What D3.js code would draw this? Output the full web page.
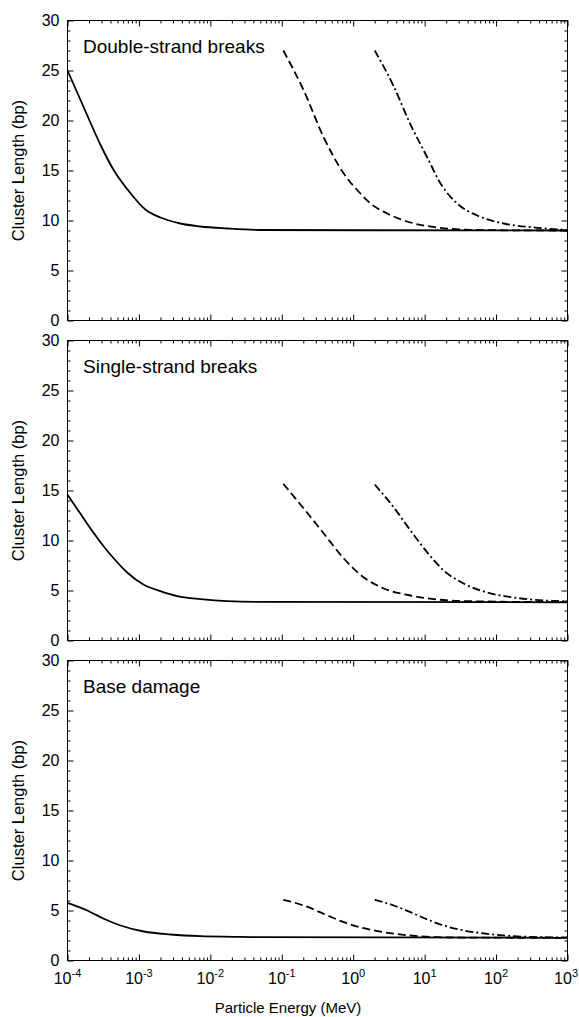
<!DOCTYPE html>
<html><head><meta charset="utf-8">
<script src="https://cdn.jsdelivr.net/npm/d3@7"></script>
<style>
body{margin:0;background:#fff}
svg{display:block}
text{font-family:"Liberation Sans",Arial,Helvetica,sans-serif;fill:#000}
</style>
</head><body>
<svg id="c" width="579" height="1017"></svg>
<script>
// ---------- data ----------
const panelTitles = ["Double-strand breaks", "Single-strand breaks", "Base damage"];
const yTickValues = [0, 5, 10, 15, 20, 25, 30];
const xTickExponents = ["-4", "-3", "-2", "-1", "0", "1", "2", "3"];
const xTitle = "Particle Energy (MeV)";
const yTitle = "Cluster Length (bp)";

// Double-strand breaks
const dsbSolidE = [1e-4, 1.51e-4, 2.09e-4, 2.88e-4, 4.47e-4, 6.92e-4, 1.23e-3, 2.0e-3, 3.8e-3, 7.24e-3, 1.7e-2, 5e-2, 1e3];
const dsbSolidL = [25, 22.1, 19.8, 17.6, 15.0, 13.1, 11.1, 10.3, 9.7, 9.4, 9.2, 9.05, 9.0];
const dsbDashE = [0.105, 0.203, 0.387, 0.738, 1.26, 1.75, 2.99, 6.34, 15, 43.8, 150, 1000];
const dsbDashL = [27, 23, 18.3, 14.7, 12.7, 11.7, 10.7, 9.8, 9.3, 9.07, 9.02, 9.0];
const dsbDashDotE = [2.0, 3.7, 6.34, 10.9, 16.7, 28.6, 54.5, 128, 377, 887, 1000];
const dsbDashDotL = [27, 23.4, 19.6, 16.3, 13.7, 11.7, 10.5, 9.7, 9.27, 9.07, 9.05];

// Single-strand breaks
const ssbSolidE = [1e-4, 1.52e-4, 2.33e-4, 3.22e-4, 4.45e-4, 6.85e-4, 1.17e-3, 2.0e-3, 3.44e-3, 7.28e-3, 1.72e-2, 4.53e-2, 1e3];
const ssbSolidL = [14.57, 12.67, 10.75, 9.4, 8.2, 6.8, 5.57, 4.93, 4.43, 4.13, 3.93, 3.87, 3.82];
const ssbDashE = [0.105, 0.203, 0.387, 0.738, 1.41, 2.68, 6.34, 15, 43.8, 1000];
const ssbDashL = [15.67, 13.2, 10.7, 8.2, 6.3, 5.2, 4.5, 4.1, 3.93, 3.83];
const ssbDashDotE = [2.0, 3.7, 6.34, 10.9, 18.5, 35.3, 75.2, 177, 466, 887, 1000];
const ssbDashDotL = [15.6, 13.3, 11, 8.8, 7.0, 5.7, 4.8, 4.3, 4.0, 3.93, 3.9];

// Base damage
const bdSolidE = [1e-4, 1.89e-4, 3.22e-4, 5.52e-4, 1.17e-3, 2.77e-3, 7.28e-3, 2.13e-2, 4.53e-2, 1e3];
const bdSolidL = [5.77, 5.0, 4.17, 3.5, 2.9, 2.6, 2.43, 2.37, 2.33, 2.27];
const bdDashE = [0.105, 0.203, 0.387, 0.738, 1.41, 2.68, 6.34, 15, 43.8, 1000];
const bdDashL = [6.07, 5.5, 4.67, 3.83, 3.23, 2.83, 2.5, 2.33, 2.29, 2.27];
const bdDashDotE = [2.0, 3.7, 6.34, 10.9, 18.5, 35.3, 75.2, 177, 466, 1000];
const bdDashDotL = [6.07, 5.5, 4.83, 4.1, 3.5, 3.0, 2.67, 2.43, 2.33, 2.3];

const panelsData = [
  [[dsbSolidE, dsbSolidL], [dsbDashE, dsbDashL], [dsbDashDotE, dsbDashDotL]],
  [[ssbSolidE, ssbSolidL], [ssbDashE, ssbDashL], [ssbDashDotE, ssbDashDotL]],
  [[bdSolidE, bdSolidL], [bdDashE, bdDashL], [bdDashDotE, bdDashDotL]]
];
const dashStyles = [null, "8,4", "8,3,2,3"];

// ---------- layout ----------
const svg = d3.select("#c");
const left = 67.5, right = 567.5, panelH = 300, gap = 20, top0 = 20.5;

const x = d3.scaleLog().domain([1e-4, 1e3]).range([left, right]);

const xMajor = xTickExponents.map(e => Math.pow(10, +e));
const xMinor = [];
for (let k = -4; k < 3; k++) for (let m = 2; m <= 9; m++) xMinor.push(m * Math.pow(10, k));
const yMinor = d3.range(0, 31, 1).filter(v => v % 5 !== 0);

panelsData.forEach((series, i) => {
  const top = top0 + i * (panelH + gap);
  const bottom = top + panelH;
  const y = d3.scaleLinear().domain([0, 30]).range([bottom, top]);
  const g = svg.append("g");

  g.append("rect").attr("x", left).attr("y", top).attr("width", right - left).attr("height", panelH)
    .attr("fill", "none").attr("stroke", "#000").attr("stroke-width", 1);

  const styleAxis = sel => {
    sel.select(".domain").remove();
    sel.selectAll("line").attr("stroke", "#000").attr("stroke-width", 1);
  };

  g.append("g").attr("transform", `translate(0,${bottom})`)
    .call(d3.axisBottom(x).tickValues(xMajor).tickSize(-6).tickFormat("")).call(styleAxis);
  g.append("g").attr("transform", `translate(0,${bottom})`)
    .call(d3.axisBottom(x).tickValues(xMinor).tickSize(-3).tickFormat("")).call(styleAxis);
  g.append("g").attr("transform", `translate(0,${top})`)
    .call(d3.axisTop(x).tickValues(xMajor).tickSize(-6).tickFormat("")).call(styleAxis);
  g.append("g").attr("transform", `translate(0,${top})`)
    .call(d3.axisTop(x).tickValues(xMinor).tickSize(-3).tickFormat("")).call(styleAxis);

  const yl = g.append("g").attr("transform", `translate(${left},0)`)
    .call(d3.axisLeft(y).tickValues(yTickValues).tickSize(-6).tickPadding(8).tickFormat(d3.format("d")))
    .call(styleAxis);
  yl.selectAll("text").attr("font-size", 16).attr("font-family", '"Liberation Sans",Arial,sans-serif').attr("fill", "#000");
  g.append("g").attr("transform", `translate(${left},0)`)
    .call(d3.axisLeft(y).tickValues(yMinor).tickSize(-3).tickFormat("")).call(styleAxis);
  g.append("g").attr("transform", `translate(${right},0)`)
    .call(d3.axisRight(y).tickValues(yTickValues).tickSize(-6).tickFormat("")).call(styleAxis);
  g.append("g").attr("transform", `translate(${right},0)`)
    .call(d3.axisRight(y).tickValues(yMinor).tickSize(-3).tickFormat("")).call(styleAxis);

  g.append("text").attr("transform", `translate(24,${(top + bottom) / 2}) rotate(-90)`)
    .attr("text-anchor", "middle").attr("font-size", 16.5).text(yTitle);

  g.append("text").attr("x", 83).attr("y", top + 32).attr("font-size", 19).text(panelTitles[i]);

  const line = d3.line().x(d => x(d[0])).y(d => y(d[1])).curve(d3.curveMonotoneX);
  series.forEach(([E, L], s) => {
    const pts = E.map((e, j) => [e, L[j]]);
    g.append("path").datum(pts).attr("d", line).attr("fill", "none")
      .attr("stroke", "#000").attr("stroke-width", 1.8)
      .attr("stroke-dasharray", dashStyles[s]);
  });

  if (i === panelsData.length - 1) {
    const lab = g.append("g");
    xMajor.forEach((v, j) => {
      const last = j === xMajor.length - 1;
      const t = lab.append("text").attr("x", last ? 578 : x(v)).attr("y", bottom + 23)
        .attr("text-anchor", last ? "end" : "middle").attr("font-size", 16);
      t.append("tspan").text("10");
      t.append("tspan").attr("font-size", 11).attr("dy", -7).text(xTickExponents[j]);
    });
    svg.append("text").attr("x", 288).attr("y", bottom + 52).attr("text-anchor", "middle")
      .attr("font-size", 15).text(xTitle);
  }
});
</script>
</body></html>
